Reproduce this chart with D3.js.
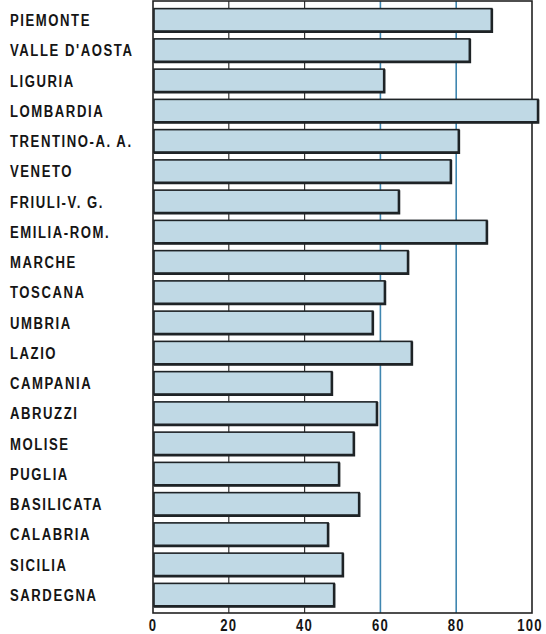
<!DOCTYPE html>
<html><head><meta charset="utf-8">
<script src="https://cdn.jsdelivr.net/npm/d3@7"></script>
<style>body{margin:0;background:#fff}svg{display:block}</style>
</head><body>
<script>
const regions = ["PIEMONTE","VALLE D'AOSTA","LIGURIA","LOMBARDIA","TRENTINO-A. A.","VENETO","FRIULI-V. G.","EMILIA-ROM.","MARCHE","TOSCANA","UMBRIA","LAZIO","CAMPANIA","ABRUZZI","MOLISE","PUGLIA","BASILICATA","CALABRIA","SICILIA","SARDEGNA"];
const values = [89.4,83.6,61,101.6,80.7,78.6,64.9,88.1,67.3,61.2,58,68.3,47.2,59.1,53,49.1,54.4,46.2,50.1,47.8];
const ticks = [0,20,40,60,80,100];

const W=546,H=634;
const svg=d3.select("body").append("svg").attr("width",W).attr("height",H);
const x=d3.scaleLinear().domain([0,100]).range([153,532]);
const y=d3.scaleBand().domain(regions).range([5,610]).paddingInner(0.24).paddingOuter(0.12);
const yTop=1,yBottom=613;
const FONT="'Liberation Sans', Arial, sans-serif";
const SX=0.82;

// gridlines
svg.append("g").selectAll("line").data(ticks.slice(1,5)).join("line")
  .attr("x1",d=>x(d)).attr("x2",d=>x(d)).attr("y1",yTop).attr("y2",yBottom)
  .attr("stroke",d=>d>=60?"#3f86b0":"#333").attr("stroke-width",d=>d>=60?1.6:1.2);
// frame
svg.append("rect").attr("x",x(0)).attr("y",yTop).attr("width",x(100)-x(0)).attr("height",yBottom-yTop)
  .attr("fill","none").attr("stroke","#222").attr("stroke-width",1.6);

// bars
const g=svg.append("g");
g.selectAll("rect").data(values).join("rect")
  .attr("x",x(0)+1).attr("y",(d,i)=>y(regions[i]))
  .attr("width",d=>x(d)-x(0)-1).attr("height",y.bandwidth())
  .attr("fill","#c0d9e5").attr("stroke","#1e2326").attr("stroke-width",1.6);
// heavier right and bottom edges
g.selectAll("path.sh").data(values).join("path").attr("class","sh")
  .attr("d",(d,i)=>{const yy=y(regions[i]),h=y.bandwidth();return `M${x(0)+1},${yy+h}H${x(d)}V${yy}`;})
  .attr("fill","none").attr("stroke","#1e2326").attr("stroke-width",2.6);

// labels
svg.append("g").selectAll("text").data(regions).join("text")
  .attr("transform",d=>`translate(10,${y(d)+y.bandwidth()/2+6}) scale(${SX},1)`)
  .attr("font-family",FONT).attr("font-weight","bold")
  .attr("font-size",16).attr("letter-spacing",1.9).attr("fill","#151515").text(d=>d);

// x axis tick labels
svg.append("g").selectAll("text").data(ticks).join("text")
  .attr("transform",d=>`translate(${x(d)-(d===100?2:0)},631) scale(${SX},1)`).attr("text-anchor","middle")
  .attr("font-family",FONT).attr("font-weight","bold")
  .attr("font-size",16).attr("letter-spacing",1.5).attr("fill","#151515").text(d=>d);
</script>
</body></html>
